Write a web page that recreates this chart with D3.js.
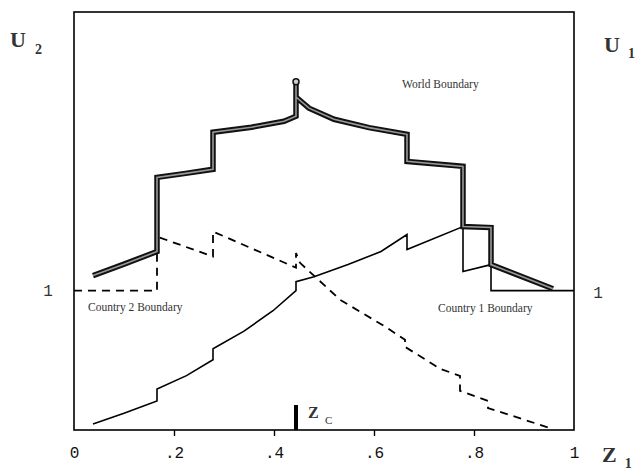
<!DOCTYPE html>
<html lang="en">
<head>
<meta charset="UTF-8">
<script src="https://cdn.jsdelivr.net/npm/d3@7"></script>
<style>
  * { margin: 0; padding: 0; }
  body { background: #fff; }
  svg { display: block; }
  .lbl { font-family: "Liberation Serif", "Times New Roman", serif; fill: #333; }
  .tick text { font-family: "Liberation Mono", "Courier New", monospace; }
</style>
</head>
<body>
<div id="chart"></div>
<script>
// values: [Z1, U]
var worldBoundary = [
  [0.038, 1.108], [0.10, 1.19], [0.166, 1.281],
  [0.166, 1.813], [0.22, 1.84], [0.278, 1.871],
  [0.278, 2.137], [0.355, 2.173], [0.42, 2.216], [0.444, 2.252],
  [0.444, 2.50], [0.444, 2.39], [0.47, 2.31], [0.52, 2.23], [0.59, 2.17], [0.666, 2.122],
  [0.666, 1.928], [0.778, 1.892],
  [0.778, 1.460], [0.834, 1.453],
  [0.834, 1.187], [0.958, 1.014]
];
var country1 = [
  [0.038, 0.043], [0.10, 0.12], [0.166, 0.209],
  [0.166, 0.295], [0.225, 0.39], [0.278, 0.504],
  [0.278, 0.583], [0.34, 0.71], [0.398, 0.856], [0.444, 1.0],
  [0.444, 1.065], [0.48, 1.10], [0.548, 1.187], [0.614, 1.281], [0.666, 1.403],
  [0.666, 1.295], [0.778, 1.460],
  [0.778, 1.137], [0.834, 1.187],
  [0.834, 1.0], [1.0, 1.0]
];
var country2 = [
  [0.0, 1.0], [0.166, 1.0],
  [0.166, 1.388], [0.278, 1.245],
  [0.278, 1.424], [0.444, 1.165],
  [0.444, 1.27], [0.452, 1.20], [0.532, 0.935], [0.626, 0.734], [0.662, 0.647],
  [0.662, 0.597], [0.732, 0.44], [0.772, 0.388],
  [0.772, 0.281], [0.828, 0.209],
  [0.828, 0.158], [0.952, 0.014]
];
var zTicks = [0, 0.2, 0.4, 0.6, 0.8, 1];
var zTickLabels = ["0", ".2", ".4", ".6", ".8", "1"];
var zc = 0.444;
var peak = [0.444, 2.50];

var w = 638, h = 471;

var x = d3.scaleLinear().domain([0, 1]).range([74, 574]);
var y = d3.scaleLinear().domain([0, 3]).range([430, 12]);

var svg = d3.select("#chart").append("svg")
  .attr("width", w)
  .attr("height", h);

var line = d3.line()
  .x(function(d) { return x(d[0]); })
  .y(function(d) { return y(d[1]); });

// frame
svg.append("rect")
  .attr("x", x(0)).attr("y", y(3))
  .attr("width", x(1) - x(0)).attr("height", y(0) - y(3))
  .attr("fill", "none").attr("stroke", "#000").attr("stroke-width", 1.6);

// bottom axis
var xAxis = d3.axisBottom(x)
  .tickValues(zTicks)
  .tickSize(6)
  .tickPadding(8)
  .tickFormat(function(d, i) { return zTickLabels[i]; });

var gx = svg.append("g")
  .attr("transform", "translate(0," + y(0) + ")")
  .call(xAxis);
gx.select(".domain").remove();
gx.selectAll(".tick line").attr("stroke-width", 1.4)
  .filter(function(d) { return d === 0 || d === 1; }).remove();
gx.selectAll(".tick text").attr("font-size", "16px").attr("fill", "#111")
  .attr("dy", "0.85em");

// "1" labels on both sides
svg.append("text").attr("class", "lbl")
  .attr("x", 48).attr("y", y(1) + 5)
  .attr("font-size", "16px").attr("text-anchor", "middle")
  .style("font-family", "Liberation Mono, monospace").attr("fill", "#111")
  .text("1");
svg.append("text").attr("class", "lbl")
  .attr("x", 598).attr("y", y(1) + 7)
  .attr("font-size", "16px").attr("text-anchor", "middle")
  .style("font-family", "Liberation Mono, monospace").attr("fill", "#111")
  .text("1");

// country 2 boundary (dashed)
svg.append("path")
  .datum(country2)
  .attr("d", line)
  .attr("fill", "none")
  .attr("stroke", "#000")
  .attr("stroke-width", 1.8)
  .attr("stroke-dasharray", "8,6");

// country 1 boundary
svg.append("path")
  .datum(country1)
  .attr("d", line)
  .attr("fill", "none")
  .attr("stroke", "#000")
  .attr("stroke-width", 1.6);

// world boundary: thick outlined line
svg.append("path")
  .datum(worldBoundary)
  .attr("d", line)
  .attr("fill", "none")
  .attr("stroke", "#111")
  .attr("stroke-width", 5.5)
  .attr("stroke-linejoin", "miter");
svg.append("path")
  .datum(worldBoundary)
  .attr("d", line)
  .attr("fill", "none")
  .attr("stroke", "#999")
  .attr("stroke-width", 1.6);
svg.append("circle")
  .attr("cx", x(peak[0])).attr("cy", y(peak[1]))
  .attr("r", 3)
  .attr("fill", "#ccc").attr("stroke", "#111").attr("stroke-width", 1.5);

// Zc marker
svg.append("line")
  .attr("x1", x(zc)).attr("x2", x(zc))
  .attr("y1", y(0)).attr("y2", y(0) - 25)
  .attr("stroke", "#000").attr("stroke-width", 4);
svg.append("text").attr("class", "lbl")
  .attr("x", x(zc) + 12).attr("y", y(0) - 12)
  .attr("font-size", "16px").attr("font-weight", "bold").attr("fill", "#111")
  .text("Z");
svg.append("text").attr("class", "lbl")
  .attr("x", x(zc) + 29).attr("y", y(0) - 6)
  .attr("font-size", "11px").attr("fill", "#111")
  .text("C");

// curve labels
svg.append("text").attr("class", "lbl")
  .attr("x", 402).attr("y", 88).attr("font-size", "11.5px")
  .text("World Boundary");
svg.append("text").attr("class", "lbl")
  .attr("x", 88).attr("y", 311).attr("font-size", "11.5px")
  .text("Country 2 Boundary");
svg.append("text").attr("class", "lbl")
  .attr("x", 438).attr("y", 312).attr("font-size", "11.5px")
  .text("Country 1 Boundary");

// axis titles
function axisTitle(tx, ty, main, sub, dx, dy) {
  var t = svg.append("text").attr("class", "lbl")
    .attr("x", tx).attr("y", ty).attr("fill", "#111").attr("font-weight", "bold");
  t.append("tspan").attr("font-size", "22px").text(main);
  t.append("tspan").attr("font-size", "14px").attr("dx", dx).attr("dy", dy).text(sub);
}
axisTitle(10, 47, "U", "2", 9, 7);
axisTitle(604, 52, "U", "1", 8, 6);
axisTitle(602, 462, "Z", "1", 8, 6);
</script>
</body>
</html>
